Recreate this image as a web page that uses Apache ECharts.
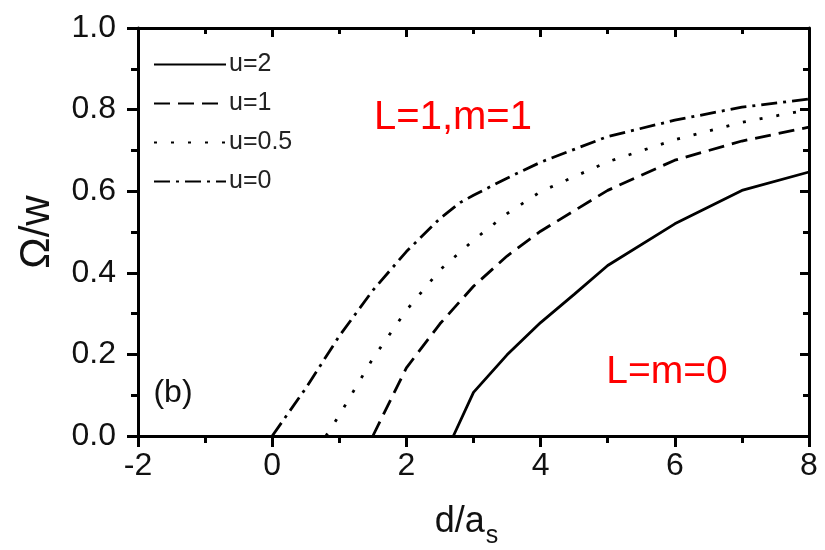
<!DOCTYPE html>
<html>
<head>
<meta charset="utf-8">
<script src="https://cdn.jsdelivr.net/npm/echarts@6/dist/echarts.min.js"></script>
<style>html,body{margin:0;padding:0;background:#fff}#c{width:825px;height:550px}</style>
</head>
<body>
<div id="c"></div>
<script>
// data: [d/a_s, Omega/w]
var u2 = [[2.7,0],[3,0.107],[3.5,0.199],[4,0.278],[4.5,0.347],[5,0.418],[6,0.52],[7,0.602],[8,0.647]];
var u1 = [[1.5,0],[2,0.167],[2.5,0.275],[3,0.367],[3.5,0.441],[4,0.502],[5,0.602],[6,0.676],[7,0.723],[8,0.757]];
var u05 = [[0.8,0],[1,0.051],[1.5,0.19],[2,0.308],[2.5,0.407],[3,0.48],[3.5,0.545],[4,0.599],[5,0.672],[6,0.726],[7,0.769],[8,0.8]];
var u0 = [[0,0],[0.5,0.117],[1,0.245],[1.5,0.357],[2,0.452],[2.5,0.533],[2.8,0.572],[3,0.59],[3.5,0.632],[4,0.671],[5,0.734],[6,0.774],[7,0.806],[8,0.826]];
var seriesNames = ['u=2','u=1','u=0.5','u=0'];
var xTicks = [-2,0,2,4,6,8];
var yTicks = ['0.0','0.2','0.4','0.6','0.8','1.0'];

var FONT = '"Liberation Sans", Arial, sans-serif';
var chart = echarts.init(document.getElementById('c'), null, {renderer:'canvas'});
function axisCommon(){
  return {
    axisLine:{show:true,onZero:false,lineStyle:{color:'#000',width:3}},
    splitLine:{show:false}
  };
}
function mkLine(name,data,dash){
  return {name:name,type:'line',data:data,symbol:'none',smooth:false,
    lineStyle:{color:'#000',width:2.8,type:dash,cap:'butt'},itemStyle:{color:'#000',opacity:0}};
}
var option = {
  animation:false,
  backgroundColor:'#fff',
  grid:{left:138,right:16,top:28,bottom:114,containLabel:false,outerBoundsMode:'none'},
  legend:{
    orient:'vertical',left:148,top:47,itemWidth:72,itemHeight:12,itemGap:14,
    itemStyle:{opacity:0},
    textStyle:{fontFamily:FONT,fontSize:25,color:'#222',lineHeight:25,padding:[0,0,0,-2]},
    data:seriesNames
  },
  xAxis:[
    Object.assign(axisCommon(),{type:'value',position:'bottom',min:-2,max:8,interval:2,
      axisTick:{show:true,inside:false,length:11,lineStyle:{color:'#000',width:3}},
      minorTick:{show:true,splitNumber:2,length:7,lineStyle:{color:'#000',width:3}},
      axisLabel:{fontFamily:FONT,fontSize:32,color:'#111',margin:14,
        formatter:function(v){return xTicks.indexOf(v)>=0?String(v):'';}},
      name:'d/a{s|s}',nameLocation:'middle',nameGap:60,
      nameTextStyle:{fontFamily:FONT,fontSize:36,color:'#111',padding:[0,14,0,0],
        rich:{s:{fontFamily:FONT,fontSize:25,color:'#111',padding:[28,0,0,1]}}}}),
    Object.assign(axisCommon(),{type:'value',position:'top',min:-2,max:8,interval:2,
      axisTick:{show:true,inside:true,length:9,lineStyle:{color:'#000',width:3}},
      minorTick:{show:true,splitNumber:2,length:6,lineStyle:{color:'#000',width:3}},
      axisLabel:{show:false}})
  ],
  yAxis:[
    Object.assign(axisCommon(),{type:'value',position:'left',min:0,max:1,interval:0.2,
      axisTick:{show:true,inside:false,length:11,lineStyle:{color:'#000',width:3}},
      minorTick:{show:true,splitNumber:2,length:7,lineStyle:{color:'#000',width:3}},
      axisLabel:{fontFamily:FONT,fontSize:32,color:'#111',margin:22,
        formatter:function(v){return yTicks[Math.round(v/0.2)];}},
      name:'\u03A9/w',nameLocation:'middle',nameGap:80,nameRotate:90,
      nameTextStyle:{fontFamily:FONT,fontSize:42,color:'#111'}}),
    Object.assign(axisCommon(),{type:'value',position:'right',min:0,max:1,interval:0.2,
      axisTick:{show:true,inside:true,length:9,lineStyle:{color:'#000',width:3}},
      minorTick:{show:true,splitNumber:2,length:6,lineStyle:{color:'#000',width:3}},
      axisLabel:{show:false}})
  ],
  series:[
    mkLine(seriesNames[0],u2,'solid'),
    mkLine(seriesNames[1],u1,[16,8]),
    mkLine(seriesNames[2],u05,[3,14]),
    mkLine(seriesNames[3],u0,[16,6,3,6])
  ],
  graphic:[
    {type:'text',x:453,y:118,style:{text:'L=1,m=1',fontFamily:FONT,fontSize:40,fill:'#ff0000',align:'center',verticalAlign:'middle'}},
    {type:'text',x:667,y:372,style:{text:'L=m=0',fontFamily:FONT,fontSize:39,fill:'#ff0000',align:'center',verticalAlign:'middle'}},
    {type:'text',x:173,y:393,style:{text:'(b)',fontFamily:FONT,fontSize:32,fill:'#111',align:'center',verticalAlign:'middle'}}
  ]
};
chart.setOption(option);
</script>
</body>
</html>
